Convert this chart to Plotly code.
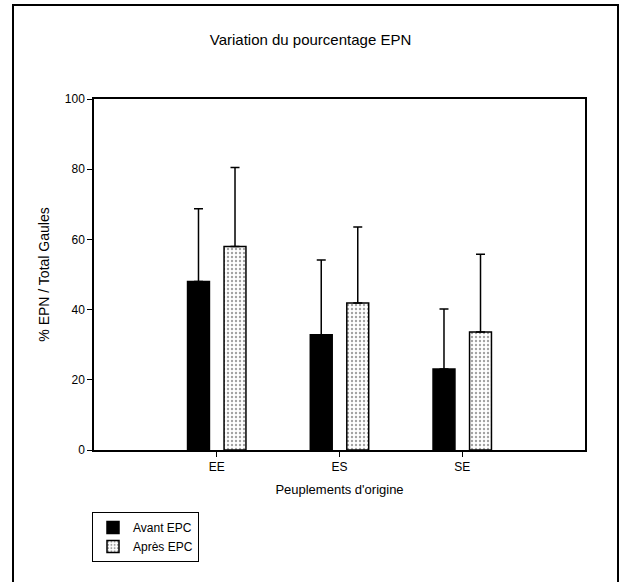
import plotly.graph_objects as go

categories = ["EE", "ES", "SE"]
avant = [48.0, 32.8, 23.1]
avant_err = [20.7, 21.3, 17.1]
apres = [58.0, 41.9, 33.6]
apres_err = [22.5, 21.6, 22.2]
y_ticks = [0, 20, 40, 60, 80, 100]

FONT = "Liberation Sans, Arial, sans-serif"

fig = go.Figure()
fig.add_trace(go.Bar(
    x=categories, y=avant, name="Avant EPC",
    marker=dict(color="black", line=dict(color="black", width=1.5)),
    error_y=dict(type="data", array=avant_err, symmetric=False, arrayminus=[0, 0, 0],
                 color="black", thickness=1.5, width=4.5),
))
fig.add_trace(go.Bar(
    x=categories, y=apres, name="Après EPC",
    marker=dict(color="white", line=dict(color="black", width=1.5),
                pattern=dict(shape=".", fgcolor="#444", bgcolor="white", size=4, solidity=0.28)),
    error_y=dict(type="data", array=apres_err, symmetric=False, arrayminus=[0, 0, 0],
                 color="black", thickness=1.5, width=4.5),
))

W, H = 621, 582
L, R, T, B = 94, 36, 99, 132
pw, ph = W - L - R, H - T - B

def px(x):
    return (x - L) / pw

def py(y):
    return (H - B - y) / ph

fig.update_layout(
    width=W, height=H,
    margin=dict(l=L, r=R, t=T, b=B),
    paper_bgcolor="white", plot_bgcolor="white",
    font=dict(family=FONT, size=12, color="black"),
    barmode="group", bargap=0.405, bargroupgap=0.4,
    title=dict(text="Variation du pourcentage EPN", x=0.5, xref="container",
               y=1 - 40 / H, yref="container", xanchor="center", yanchor="middle",
               font=dict(family=FONT, size=15, color="black")),
    xaxis=dict(range=[-1, 3], showline=True, linecolor="black", linewidth=1.5, mirror=True,
               ticks="outside", ticklen=5, tickcolor="black", tickwidth=1,
               showgrid=False, zeroline=False,
               title=dict(text="Peuplements d'origine", font=dict(family=FONT, size=13), standoff=12),
               tickfont=dict(size=12)),
    yaxis=dict(range=[0, 100], tickvals=y_ticks, showline=True, linecolor="black", linewidth=1.5,
               mirror=True, ticks="outside", ticklen=5, tickcolor="black", tickwidth=1,
               showgrid=False, zeroline=False,
               title=dict(text="% EPN / Total Gaules", font=dict(family=FONT, size=14), standoff=12),
               tickfont=dict(size=12)),
    showlegend=True,
    legend=dict(x=px(92), y=py(512), xanchor="left", yanchor="top",
                bordercolor="black", borderwidth=1, bgcolor="white",
                font=dict(family=FONT, size=12), tracegroupgap=0),
    shapes=[dict(type="rect", xref="paper", yref="paper",
                 x0=px(13), x1=px(618), y0=py(600), y1=py(5),
                 line=dict(color="black", width=2), fillcolor="rgba(0,0,0,0)", layer="below")],
)

fig.write_html("out.html")
